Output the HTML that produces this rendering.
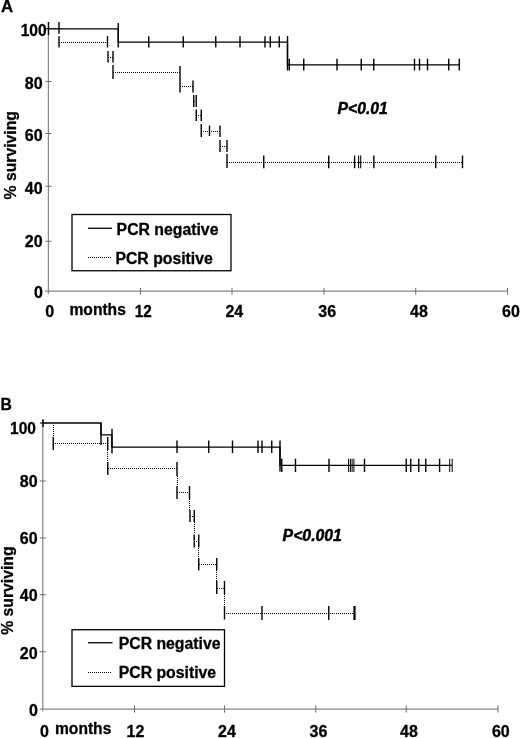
<!DOCTYPE html>
<html><head><meta charset="utf-8"><title>Survival curves</title>
<style>
html,body{margin:0;padding:0;background:#fff;}
body{width:520px;height:738px;overflow:hidden;}
svg{display:block;filter:grayscale(1);}
svg text{font-family:"Liberation Sans",sans-serif;font-weight:bold;fill:#000;stroke:#000;stroke-width:0.3px;stroke-linejoin:round;}
</style></head><body>
<svg width="520" height="738" viewBox="0 0 520 738">
<rect width="520" height="738" fill="#fff"/>
<line x1="48.4" y1="22" x2="48.4" y2="293.75" stroke="#858585" stroke-width="1.2" />
<line x1="45" y1="291.15" x2="507.5" y2="291.15" stroke="#858585" stroke-width="1.2" />
<line x1="45.4" y1="81.5" x2="51.6" y2="81.5" stroke="#6e6e6e" stroke-width="1" />
<line x1="45.4" y1="133.5" x2="51.6" y2="133.5" stroke="#6e6e6e" stroke-width="1" />
<line x1="45.4" y1="186.25" x2="51.6" y2="186.25" stroke="#6e6e6e" stroke-width="1" />
<line x1="45.4" y1="241.25" x2="51.6" y2="241.25" stroke="#6e6e6e" stroke-width="1" />
<line x1="45.5" y1="28.6" x2="48.5" y2="28.6" stroke="#222" stroke-width="1.2" />
<line x1="140.5" y1="288" x2="140.5" y2="294.6" stroke="#6e6e6e" stroke-width="1" />
<line x1="232" y1="288" x2="232" y2="294.6" stroke="#6e6e6e" stroke-width="1" />
<line x1="324" y1="288" x2="324" y2="294.6" stroke="#6e6e6e" stroke-width="1" />
<line x1="415.75" y1="288" x2="415.75" y2="294.6" stroke="#6e6e6e" stroke-width="1" />
<line x1="507.5" y1="288" x2="507.5" y2="294.6" stroke="#6e6e6e" stroke-width="1" />
<line x1="59" y1="42.5" x2="108" y2="42.5" stroke="#000" stroke-width="1.0" stroke-dasharray="1 1" shape-rendering="crispEdges"/>
<line x1="108" y1="57.5" x2="113" y2="57.5" stroke="#000" stroke-width="1.0" stroke-dasharray="1 1" shape-rendering="crispEdges"/>
<line x1="113" y1="72.5" x2="180" y2="72.5" stroke="#000" stroke-width="1.0" stroke-dasharray="1 1" shape-rendering="crispEdges"/>
<line x1="180" y1="86.5" x2="193" y2="86.5" stroke="#000" stroke-width="1.0" stroke-dasharray="1 1" shape-rendering="crispEdges"/>
<line x1="194" y1="101.5" x2="196" y2="101.5" stroke="#000" stroke-width="1.0" stroke-dasharray="1 1" shape-rendering="crispEdges"/>
<line x1="196" y1="115.5" x2="201" y2="115.5" stroke="#000" stroke-width="1.0" stroke-dasharray="1 1" shape-rendering="crispEdges"/>
<line x1="201" y1="131.5" x2="220" y2="131.5" stroke="#000" stroke-width="1.0" stroke-dasharray="1 1" shape-rendering="crispEdges"/>
<line x1="220" y1="146.5" x2="227" y2="146.5" stroke="#000" stroke-width="1.0" stroke-dasharray="1 1" shape-rendering="crispEdges"/>
<line x1="227" y1="162.5" x2="462" y2="162.5" stroke="#000" stroke-width="1.0" stroke-dasharray="1 1" shape-rendering="crispEdges"/>
<line x1="49" y1="28.5" x2="63" y2="28.5" stroke="#000" stroke-width="1.0" stroke-dasharray="1 1" shape-rendering="crispEdges"/>
<line x1="358.6" y1="155.5" x2="358.6" y2="168.2" stroke="#000" stroke-width="1.1" />
<line x1="360.7" y1="155.5" x2="360.7" y2="168.2" stroke="#000" stroke-width="1.1" />
<line x1="59" y1="36.25" x2="59" y2="47.5" stroke="#000" stroke-width="1.4" />
<line x1="107.5" y1="36" x2="107.5" y2="47.5" stroke="#000" stroke-width="1.4" />
<line x1="108" y1="51" x2="108" y2="62.5" stroke="#000" stroke-width="1.4" />
<line x1="113" y1="51" x2="113" y2="62.5" stroke="#000" stroke-width="1.4" />
<line x1="113" y1="65" x2="113" y2="79" stroke="#000" stroke-width="1.4" />
<line x1="180" y1="66" x2="180" y2="92.5" stroke="#000" stroke-width="1.4" />
<line x1="193" y1="80.5" x2="193" y2="92.5" stroke="#000" stroke-width="1.4" />
<line x1="193.75" y1="95" x2="193.75" y2="107" stroke="#000" stroke-width="1.4" />
<line x1="196.25" y1="95" x2="196.25" y2="107" stroke="#000" stroke-width="1.4" />
<line x1="196.25" y1="109.5" x2="196.25" y2="121" stroke="#000" stroke-width="1.4" />
<line x1="201.25" y1="109.5" x2="201.25" y2="121" stroke="#000" stroke-width="1.4" />
<line x1="201.25" y1="124" x2="201.25" y2="137" stroke="#000" stroke-width="1.4" />
<line x1="209.5" y1="125.5" x2="209.5" y2="136" stroke="#000" stroke-width="1.4" />
<line x1="220" y1="125.5" x2="220" y2="137" stroke="#000" stroke-width="1.4" />
<line x1="220" y1="140" x2="220" y2="152" stroke="#000" stroke-width="1.4" />
<line x1="227" y1="140" x2="227" y2="152" stroke="#000" stroke-width="1.4" />
<line x1="227" y1="154" x2="227" y2="168" stroke="#000" stroke-width="1.4" />
<line x1="263.75" y1="155.5" x2="263.75" y2="168.2" stroke="#000" stroke-width="1.4" />
<line x1="328.75" y1="155.5" x2="328.75" y2="168.2" stroke="#000" stroke-width="1.4" />
<line x1="354.6" y1="155.5" x2="354.6" y2="168.2" stroke="#000" stroke-width="1.4" />
<line x1="373.85" y1="155.5" x2="373.85" y2="168.2" stroke="#000" stroke-width="1.4" />
<line x1="435.75" y1="155.5" x2="435.75" y2="168.2" stroke="#000" stroke-width="1.4" />
<line x1="462.5" y1="155.5" x2="462.5" y2="168.2" stroke="#000" stroke-width="1.4" />
<path d="M48.5,28.95 H118.25 V42.2 H287.5 V64.9 H459.25" fill="none" stroke="#000" stroke-width="1.3"/>
<line x1="48.5" y1="22" x2="48.5" y2="35" stroke="#000" stroke-width="1.4" />
<line x1="59" y1="22" x2="59" y2="33.75" stroke="#000" stroke-width="1.4" />
<line x1="118.25" y1="23" x2="118.25" y2="47.5" stroke="#000" stroke-width="1.4" />
<line x1="148.75" y1="36.25" x2="148.75" y2="47.5" stroke="#000" stroke-width="1.4" />
<line x1="183.25" y1="36.25" x2="183.25" y2="47.5" stroke="#000" stroke-width="1.4" />
<line x1="215.75" y1="36.25" x2="215.75" y2="47.5" stroke="#000" stroke-width="1.4" />
<line x1="240" y1="36.25" x2="240" y2="47.5" stroke="#000" stroke-width="1.4" />
<line x1="265" y1="36.25" x2="265" y2="47.5" stroke="#000" stroke-width="1.4" />
<line x1="270.25" y1="36.25" x2="270.25" y2="47.5" stroke="#000" stroke-width="1.4" />
<line x1="279.25" y1="36.25" x2="279.25" y2="47.5" stroke="#000" stroke-width="1.4" />
<line x1="287.5" y1="36" x2="287.5" y2="70.5" stroke="#000" stroke-width="1.4" />
<line x1="289.25" y1="58.75" x2="289.25" y2="70.5" stroke="#000" stroke-width="1.4" />
<line x1="303.75" y1="58.75" x2="303.75" y2="70.5" stroke="#000" stroke-width="1.4" />
<line x1="337" y1="58.75" x2="337" y2="70.5" stroke="#000" stroke-width="1.4" />
<line x1="361.25" y1="58.75" x2="361.25" y2="70.5" stroke="#000" stroke-width="1.4" />
<line x1="373.75" y1="58.75" x2="373.75" y2="70.5" stroke="#000" stroke-width="1.4" />
<line x1="414.5" y1="58.75" x2="414.5" y2="70.5" stroke="#000" stroke-width="1.4" />
<line x1="419.5" y1="58.75" x2="419.5" y2="70.5" stroke="#000" stroke-width="1.4" />
<line x1="427.5" y1="58.75" x2="427.5" y2="70.5" stroke="#000" stroke-width="1.4" />
<line x1="448.75" y1="58.75" x2="448.75" y2="70.5" stroke="#000" stroke-width="1.4" />
<line x1="459.25" y1="58.75" x2="459.25" y2="70.5" stroke="#000" stroke-width="1.4" />
<rect x="72" y="214.5" width="159" height="56.25" fill="#fff" stroke="#000" stroke-width="1.3"/>
<line x1="88" y1="228.25" x2="112" y2="228.25" stroke="#000" stroke-width="1.3" />
<line x1="88" y1="257.5" x2="112" y2="257.5" stroke="#000" stroke-width="1.0" stroke-dasharray="1 1" shape-rendering="crispEdges"/>
<text x="116.6" y="235.4" font-size="15.8" text-anchor="start"  style="">PCR negative</text>
<text x="115.4" y="264.4" font-size="15.8" text-anchor="start"  style="">PCR positive</text>
<text x="0.9" y="12" font-size="16" text-anchor="start" textLength="12.1" lengthAdjust="spacingAndGlyphs" style="stroke:#000;stroke-width:0.3">A</text>
<text x="46.7" y="35.5" font-size="16" text-anchor="end" textLength="26.0" lengthAdjust="spacingAndGlyphs" style="">100</text>
<text x="42.6" y="88.75" font-size="16" text-anchor="end"  style="">80</text>
<text x="42.6" y="141" font-size="16" text-anchor="end"  style="">60</text>
<text x="42.6" y="193.75" font-size="16" text-anchor="end"  style="">40</text>
<text x="42.6" y="246.9" font-size="16" text-anchor="end"  style="">20</text>
<text x="42.9" y="298.1" font-size="16" text-anchor="end"  style="">0</text>
<text x="45.2" y="317.2" font-size="16" text-anchor="start"  style="">0</text>
<text x="134.7" y="317.2" font-size="16" text-anchor="start" textLength="17" lengthAdjust="spacingAndGlyphs" style="">12</text>
<text x="225.4" y="317.2" font-size="16" text-anchor="start"  style="">24</text>
<text x="318.35" y="317.2" font-size="16" text-anchor="start"  style="">36</text>
<text x="410.1" y="317.2" font-size="16" text-anchor="start"  style="">48</text>
<text x="502.0" y="317.2" font-size="16" text-anchor="start"  style="">60</text>
<text x="69.5" y="314.7" font-size="15.6" text-anchor="start"  style="">months</text>
<text transform="translate(16.4,199.5) rotate(-90)" font-size="16.8" textLength="88.5" lengthAdjust="spacingAndGlyphs">% surviving</text>
<text x="337.5" y="114.2" font-size="16.1" text-anchor="start" textLength="50.3" lengthAdjust="spacingAndGlyphs" style="font-style:italic;stroke:#000;stroke-width:0.45">P&lt;0.01</text>
<line x1="42.8" y1="419.5" x2="42.8" y2="711.4" stroke="#858585" stroke-width="1.2" />
<line x1="40" y1="709.15" x2="498" y2="709.15" stroke="#858585" stroke-width="1.2" />
<line x1="39.8" y1="481" x2="45.8" y2="481" stroke="#6e6e6e" stroke-width="1" />
<line x1="39.8" y1="538" x2="45.8" y2="538" stroke="#6e6e6e" stroke-width="1" />
<line x1="39.8" y1="594.75" x2="45.8" y2="594.75" stroke="#6e6e6e" stroke-width="1" />
<line x1="39.8" y1="651.75" x2="45.8" y2="651.75" stroke="#6e6e6e" stroke-width="1" />
<line x1="40" y1="423" x2="43" y2="423" stroke="#222" stroke-width="1.2" />
<line x1="134.5" y1="705.5" x2="134.5" y2="712.6" stroke="#6e6e6e" stroke-width="1" />
<line x1="224.5" y1="705.5" x2="224.5" y2="712.6" stroke="#6e6e6e" stroke-width="1" />
<line x1="315.75" y1="705.5" x2="315.75" y2="712.6" stroke="#6e6e6e" stroke-width="1" />
<line x1="406.25" y1="705.5" x2="406.25" y2="712.6" stroke="#6e6e6e" stroke-width="1" />
<line x1="498" y1="705.5" x2="498" y2="712.6" stroke="#6e6e6e" stroke-width="1" />
<line x1="53" y1="443.5" x2="108" y2="443.5" stroke="#000" stroke-width="1.0" stroke-dasharray="1 1" shape-rendering="crispEdges"/>
<line x1="108" y1="468.5" x2="177" y2="468.5" stroke="#000" stroke-width="1.0" stroke-dasharray="1 1" shape-rendering="crispEdges"/>
<line x1="177" y1="492.5" x2="190" y2="492.5" stroke="#000" stroke-width="1.0" stroke-dasharray="1 1" shape-rendering="crispEdges"/>
<line x1="190" y1="516.5" x2="194" y2="516.5" stroke="#000" stroke-width="1.0" stroke-dasharray="1 1" shape-rendering="crispEdges"/>
<line x1="194" y1="541.5" x2="199" y2="541.5" stroke="#000" stroke-width="1.0" stroke-dasharray="1 1" shape-rendering="crispEdges"/>
<line x1="199" y1="564.5" x2="217" y2="564.5" stroke="#000" stroke-width="1.0" stroke-dasharray="1 1" shape-rendering="crispEdges"/>
<line x1="217" y1="588.5" x2="224" y2="588.5" stroke="#000" stroke-width="1.0" stroke-dasharray="1 1" shape-rendering="crispEdges"/>
<line x1="224" y1="613.5" x2="354" y2="613.5" stroke="#000" stroke-width="1.0" stroke-dasharray="1 1" shape-rendering="crispEdges"/>
<line x1="53.5" y1="425" x2="53.5" y2="437" stroke="#000" stroke-width="1.0" stroke-dasharray="1 1" shape-rendering="crispEdges"/>
<line x1="107.5" y1="450" x2="107.5" y2="462" stroke="#000" stroke-width="1.0" stroke-dasharray="1 1" shape-rendering="crispEdges"/>
<line x1="177.5" y1="476" x2="177.5" y2="486" stroke="#000" stroke-width="1.0" stroke-dasharray="1 1" shape-rendering="crispEdges"/>
<line x1="189.5" y1="499" x2="189.5" y2="510" stroke="#000" stroke-width="1.0" stroke-dasharray="1 1" shape-rendering="crispEdges"/>
<line x1="194.5" y1="522" x2="194.5" y2="534" stroke="#000" stroke-width="1.0" stroke-dasharray="1 1" shape-rendering="crispEdges"/>
<line x1="198.5" y1="548" x2="198.5" y2="558" stroke="#000" stroke-width="1.0" stroke-dasharray="1 1" shape-rendering="crispEdges"/>
<line x1="216.5" y1="570" x2="216.5" y2="581" stroke="#000" stroke-width="1.0" stroke-dasharray="1 1" shape-rendering="crispEdges"/>
<line x1="224.5" y1="594" x2="224.5" y2="606" stroke="#000" stroke-width="1.0" stroke-dasharray="1 1" shape-rendering="crispEdges"/>
<line x1="53.25" y1="437" x2="53.25" y2="450" stroke="#000" stroke-width="1.4" />
<line x1="107.75" y1="437" x2="107.75" y2="450" stroke="#000" stroke-width="1.4" />
<line x1="107.75" y1="462" x2="107.75" y2="475" stroke="#000" stroke-width="1.4" />
<line x1="177" y1="462" x2="177" y2="476" stroke="#000" stroke-width="1.4" />
<line x1="177" y1="486" x2="177" y2="499" stroke="#000" stroke-width="1.4" />
<line x1="189.5" y1="486" x2="189.5" y2="499" stroke="#000" stroke-width="1.4" />
<line x1="190" y1="510" x2="190" y2="522" stroke="#000" stroke-width="1.4" />
<line x1="194.25" y1="510" x2="194.25" y2="522" stroke="#000" stroke-width="1.4" />
<line x1="194.25" y1="534.5" x2="194.25" y2="547.5" stroke="#000" stroke-width="1.4" />
<line x1="198.75" y1="534.5" x2="198.75" y2="547.5" stroke="#000" stroke-width="1.4" />
<line x1="198.75" y1="558" x2="198.75" y2="570.5" stroke="#000" stroke-width="1.4" />
<line x1="216.75" y1="558" x2="216.75" y2="570.5" stroke="#000" stroke-width="1.4" />
<line x1="216.75" y1="581" x2="216.75" y2="594" stroke="#000" stroke-width="1.4" />
<line x1="224.5" y1="581" x2="224.5" y2="594" stroke="#000" stroke-width="1.4" />
<line x1="224.5" y1="606" x2="224.5" y2="619.5" stroke="#000" stroke-width="1.4" />
<line x1="262" y1="606" x2="262" y2="620" stroke="#000" stroke-width="1.4" />
<line x1="328.75" y1="606" x2="328.75" y2="620" stroke="#000" stroke-width="1.4" />
<line x1="354.5" y1="606" x2="354.5" y2="620" stroke="#000" stroke-width="2.2" />
<path d="M43,423 H101 V434.9 H111.9 V447.2 H280 V465.4 H452" fill="none" stroke="#000" stroke-width="1.3"/>
<line x1="348.6" y1="458.75" x2="348.6" y2="472" stroke="#000" stroke-width="1.0" />
<line x1="350.4" y1="458.75" x2="350.4" y2="472" stroke="#000" stroke-width="1.0" />
<line x1="352.1" y1="458.75" x2="352.1" y2="472" stroke="#000" stroke-width="1.0" />
<line x1="353.9" y1="458.75" x2="353.9" y2="472" stroke="#000" stroke-width="1.0" />
<line x1="449.7" y1="458.75" x2="449.7" y2="472" stroke="#000" stroke-width="1.0" />
<line x1="452.2" y1="458.75" x2="452.2" y2="472" stroke="#000" stroke-width="1.0" />
<line x1="43" y1="419.5" x2="43" y2="427" stroke="#000" stroke-width="1.4" />
<line x1="101" y1="423" x2="101" y2="445" stroke="#000" stroke-width="1.4" />
<line x1="112" y1="428.75" x2="112" y2="453.5" stroke="#000" stroke-width="1.4" />
<line x1="177" y1="440.5" x2="177" y2="453" stroke="#000" stroke-width="1.4" />
<line x1="208.75" y1="440.5" x2="208.75" y2="453" stroke="#000" stroke-width="1.4" />
<line x1="232.5" y1="440.5" x2="232.5" y2="453" stroke="#000" stroke-width="1.4" />
<line x1="258" y1="440.5" x2="258" y2="453" stroke="#000" stroke-width="1.4" />
<line x1="262" y1="440.5" x2="262" y2="453" stroke="#000" stroke-width="1.4" />
<line x1="271.75" y1="440.5" x2="271.75" y2="453" stroke="#000" stroke-width="1.4" />
<line x1="280" y1="440.5" x2="280" y2="471.5" stroke="#000" stroke-width="1.4" />
<line x1="281.75" y1="458.75" x2="281.75" y2="472" stroke="#000" stroke-width="1.4" />
<line x1="295.5" y1="458.75" x2="295.5" y2="472" stroke="#000" stroke-width="1.4" />
<line x1="329" y1="458.75" x2="329" y2="472" stroke="#000" stroke-width="1.4" />
<line x1="364.5" y1="458.75" x2="364.5" y2="472" stroke="#000" stroke-width="1.4" />
<line x1="406.25" y1="458.75" x2="406.25" y2="472" stroke="#000" stroke-width="1.4" />
<line x1="410.75" y1="458.75" x2="410.75" y2="472" stroke="#000" stroke-width="1.4" />
<line x1="418.75" y1="458.75" x2="418.75" y2="472" stroke="#000" stroke-width="1.4" />
<line x1="425.75" y1="458.75" x2="425.75" y2="472" stroke="#000" stroke-width="1.4" />
<line x1="439.6" y1="458.75" x2="439.6" y2="472" stroke="#000" stroke-width="1.4" />
<rect x="72" y="629.75" width="152.5" height="56.6" fill="#fff" stroke="#000" stroke-width="1.3"/>
<line x1="88" y1="642.75" x2="112.5" y2="642.75" stroke="#000" stroke-width="1.3" />
<line x1="88" y1="672.5" x2="112" y2="672.5" stroke="#000" stroke-width="1.0" stroke-dasharray="1 1" shape-rendering="crispEdges"/>
<text x="118.7" y="649.0" font-size="15.8" text-anchor="start"  style="">PCR negative</text>
<text x="118.7" y="677.6" font-size="15.8" text-anchor="start"  style="">PCR positive</text>
<text x="0.4" y="409.6" font-size="15.7" text-anchor="start"  style="stroke:#000;stroke-width:0.3">B</text>
<text x="35.9" y="433.6" font-size="16" text-anchor="end" textLength="25.9" lengthAdjust="spacingAndGlyphs" style="">100</text>
<text x="37.6" y="487.25" font-size="16" text-anchor="end"  style="">80</text>
<text x="37.6" y="544.4" font-size="16" text-anchor="end"  style="">60</text>
<text x="37.6" y="601.25" font-size="16" text-anchor="end"  style="">40</text>
<text x="37.6" y="658.75" font-size="16" text-anchor="end"  style="">20</text>
<text x="37.9" y="715.6" font-size="16" text-anchor="end"  style="">0</text>
<text x="39.95" y="736.7" font-size="16" text-anchor="start"  style="">0</text>
<text x="126.5" y="736.7" font-size="16" text-anchor="start"  style="">12</text>
<text x="218.0" y="736.7" font-size="16" text-anchor="start"  style="">24</text>
<text x="309.5" y="736.7" font-size="16" text-anchor="start"  style="">36</text>
<text x="400.0" y="736.7" font-size="16" text-anchor="start"  style="">48</text>
<text x="491.9" y="736.7" font-size="16" text-anchor="start"  style="">60</text>
<text x="55.0" y="733.9" font-size="15.6" text-anchor="start"  style="">months</text>
<text transform="translate(13.2,634.8) rotate(-90)" font-size="16.8" textLength="88.3" lengthAdjust="spacingAndGlyphs">% surviving</text>
<text x="282.6" y="540.5" font-size="15.8" text-anchor="start"  style="font-style:italic;stroke:#000;stroke-width:0.45">P&lt;0.001</text>
</svg>
</body></html>
